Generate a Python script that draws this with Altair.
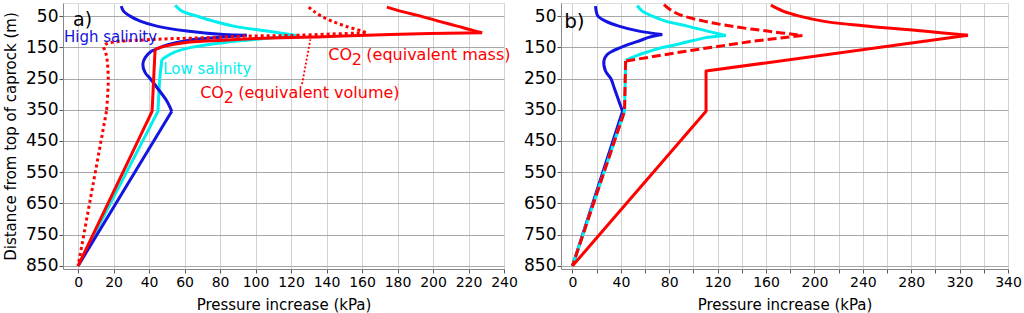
import altair as alt
import pandas as pd

# ---------------- Panel a) (depth in m, pressure increase in kPa) ----------------
a_high_depth = [18, 34, 50, 66, 82, 98, 109, 111, 118, 125, 135, 146, 155, 162, 183, 204, 231, 250, 285, 322, 355, 850]
a_high_kpa   = [24.3, 25.6, 29.3, 35, 44.4, 61.3, 82, 95, 80, 65, 55, 48, 44.5, 41.5, 37.8, 36.5, 37.8, 40.6, 45.3, 50, 52.8, 0]

a_low_depth = [15, 34, 50, 66, 82, 98, 112, 120, 127, 135, 151, 167, 189, 250, 300, 355, 850]
a_low_kpa   = [54.7, 58.5, 67, 76.3, 87.6, 106.4, 123, 108, 95, 82, 63, 53.8, 47.2, 46, 45.5, 45, 0]

a_mass_depth = [21, 34, 50, 66, 82, 98, 103, 108.6, 116, 121.5, 127, 133, 140.6, 151, 156, 355, 850]
a_mass_kpa   = [174, 181.6, 193, 203, 213.6, 224, 227.7, 176, 138, 101, 82, 63, 54, 46, 43.4, 41.7, 0]

a_vol_depth = [21, 34, 50, 66, 82, 98, 103, 112, 114, 119.5, 124.6, 135, 142, 150, 172, 250, 355, 850]
a_vol_kpa   = [130, 132.7, 137, 143, 150.6, 160, 162, 119.5, 95, 70, 42.5, 18, 15, 14.3, 15.8, 17, 16, 0]

# ---------------- Panel b) ----------------
b_high_depth = [18, 34, 50, 66, 82, 98, 109, 118, 128, 140, 151, 162, 173, 192, 226, 250, 280, 311, 355, 850]
b_high_kpa   = [19, 19.6, 21, 27.3, 38.3, 55, 74.2, 63, 56, 47, 39.7, 33, 28.7, 26, 27.3, 31.7, 34.5, 37.3, 41.4, 0]

b_low_depth = [16, 34, 50, 66, 82, 98, 112, 118, 128, 141, 153, 165, 178, 192, 355, 850]
b_low_kpa   = [53.5, 57.7, 66, 77, 95, 111.5, 126.7, 112, 100, 86, 72, 61.8, 52, 44, 43, 0]

b_mass_depth = [15, 34, 50, 66, 82, 98, 111, 226, 355, 850]
b_mass_kpa   = [164, 174, 187.6, 207, 243, 290, 327, 110.4, 110.4, 0]

b_vol_depth = [13, 34, 50, 66, 82, 98, 112, 130, 160, 194, 355, 850]
b_vol_kpa   = [75.6, 82.5, 92, 108.7, 130.8, 161, 190, 150, 97.7, 43.9, 43, 0]

# smooth (curved) stretches of each profile: (first index, last index, interpolation)
a_high_segs = [(0, 7, "catmull-rom"), (7, 12, "catmull-rom"), (12, 20, "catmull-rom"), (20, 21, "linear")]
a_low_segs = [(0, 6, "catmull-rom"), (6, 12, "catmull-rom"), (12, 16, "linear")]
a_mass_segs = [(0, 6, "catmull-rom"), (6, 14, "catmull-rom"), (14, 16, "linear")]
a_vol_segs = [(0, 6, "catmull-rom"), (6, 13, "catmull-rom"), (13, 16, "catmull-rom"), (16, 17, "linear")]
b_high_segs = [(0, 6, "catmull-rom"), (6, 18, "catmull-rom"), (18, 19, "linear")]
b_low_segs = [(0, 6, "catmull-rom"), (6, 13, "catmull-rom"), (13, 15, "linear")]
b_mass_segs = [(0, 6, "catmull-rom"), (6, 9, "linear")]
b_vol_segs = [(0, 6, "catmull-rom"), (6, 9, "linear"), (9, 11, "linear")]

# x-axis tick values / labels
a_xticks = list(range(0, 241, 20))
b_xticks = list(range(0, 361, 20))
y_ticks = list(range(50, 851, 100))

BLUE = "#1414e0"
CYAN = "#00eeee"
RED = "#ff0000"
FONT = "DejaVu Sans"


def series_df(depth, kpa, name, segs):
    rows = []
    for s, (i0, i1, _) in enumerate(segs):
        for i in range(i0, i1 + 1):
            rows.append({"depth": depth[i], "kpa": kpa[i], "series": name, "seg": s, "idx": i})
    return pd.DataFrame(rows)


def make_panel(series, xdomain, xticks, label_expr, ytitle, width, annotations, leader=None):
    df = pd.concat([series_df(d, k, n, sg) for (n, d, k, sg, c, dash) in series], ignore_index=True)
    xaxis = alt.Axis(values=xticks, labelExpr=label_expr, title="Pressure increase (kPa)",
                     titleFont=FONT, titleFontSize=15, titleFontWeight="normal", titlePadding=8,
                     labelFont=FONT, labelFontSize=14, labelColor="black", labelPadding=2,
                     grid=True, gridColor="#d2d2d2", gridWidth=1,
                     domainColor="#888", tickColor="#555", tickSize=4, labelOverlap=False,
                     labelFlush=False)
    yaxis_kw = dict(values=y_ticks, labelFont=FONT, labelFontSize=17, labelColor="black",
                    labelPadding=1, grid=True, gridColor="#a8a8a8", gridWidth=1,
                    domainColor="#888", tickColor="#555", tickSize=4)
    if ytitle:
        yaxis = alt.Axis(title=ytitle, titleFont=FONT, titleFontSize=15, titleFontWeight="normal",
                         titlePadding=7, **yaxis_kw)
    else:
        yaxis = alt.Axis(title=None, **yaxis_kw)
    xenc = alt.X("kpa:Q", scale=alt.Scale(domain=xdomain, nice=False, zero=False), axis=xaxis)
    yenc = alt.Y("depth:Q", scale=alt.Scale(domain=[8, 860], nice=False, zero=False, reverse=True), axis=yaxis)

    base = alt.Chart(df).encode(x=xenc, y=yenc, order=alt.Order("idx:Q"))
    layers = []
    for (n, d, k, segs, c, dash) in series:
        for s, (i0, i1, interp) in enumerate(segs):
            kw = dict(color=c, strokeWidth=3, strokeJoin="round", strokeCap="butt",
                      interpolate=interp, clip=True)
            if dash:
                kw["strokeDash"] = dash
            layers.append(base.transform_filter(
                (alt.datum.series == n) & (alt.datum.seg == s)).mark_line(**kw))

    if leader is not None:
        ldf = pd.DataFrame({"kpa": [leader[0]], "depth": [leader[1]], "kpa2": [leader[2]], "depth2": [leader[3]]})
        layers.append(alt.Chart(ldf).mark_rule(color=RED, strokeWidth=1.8, strokeDash=[2, 2]).encode(
            x=xenc, y=yenc, x2="kpa2:Q", y2="depth2:Q"))

    for (txt, kx, dy_, color, size, dx, ddy) in annotations:
        tdf = pd.DataFrame({"kpa": [kx], "depth": [dy_], "t": [txt]})
        layers.append(alt.Chart(tdf).mark_text(align="left", baseline="middle", font=FONT,
                                               fontSize=size, color=color, dx=dx, dy=ddy).encode(
            x=xenc, y=yenc, text="t:N"))

    return alt.layer(*layers).properties(width=width, height=266)


a_series = [
    ("low", a_low_depth, a_low_kpa, a_low_segs, CYAN, None),
    ("high", a_high_depth, a_high_kpa, a_high_segs, BLUE, None),
    ("vol", a_vol_depth, a_vol_kpa, a_vol_segs, RED, [3, 3]),
    ("mass", a_mass_depth, a_mass_kpa, a_mass_segs, RED, None),
]
a_ann = [
    ("a)", -2.8, 61, "black", 19, 0, 0),
    ("High salinity", -7.9, 117, BLUE, 15, 0, 0),
    ("Low salinity", 48, 220, CYAN, 15, 0, 0),
    ("CO", 141, 174, RED, 16, 0, 0),
    ("2", 141, 174, RED, 16, 23.5, 5),
    ("(equivalent mass)", 141, 174, RED, 16, 38, 0),
    ("CO", 68.8, 295, RED, 16, 0, 0),
    ("2", 68.8, 295, RED, 16, 23.5, 5),
    ("(equivalent volume)", 68.8, 295, RED, 16, 38, 0),
]

b_series = [
    ("high", b_high_depth, b_high_kpa, b_high_segs, BLUE, None),
    ("low", b_low_depth, b_low_kpa, b_low_segs, CYAN, None),
    ("vol", b_vol_depth, b_vol_kpa, b_vol_segs, RED, [9, 4]),
    ("mass", b_mass_depth, b_mass_kpa, b_mass_segs, RED, None),
]
b_ann = [("b)", -6.9, 69, "black", 20, 0, 0)]

panel_a = make_panel(a_series, [-8.5, 240], a_xticks, "datum.label",
                     "Distance from top of caprock (m)", 441, a_ann,
                     leader=(126.2, 268, 130.9, 124.7))
panel_b = make_panel(b_series, [-9.5, 360], b_xticks,
                     "datum.value % 40 == 0 ? (datum.value == 360 ? '340' : datum.label) : ''",
                     None, 447, b_ann)

chart = alt.hconcat(panel_a, panel_b, spacing=5).properties(
    padding={"left": 3, "top": 2, "right": 2, "bottom": 0}
).configure_view(stroke=None).configure(font=FONT, background="white")

chart.save("out.html", embed_options={"renderer": "svg", "actions": False})
